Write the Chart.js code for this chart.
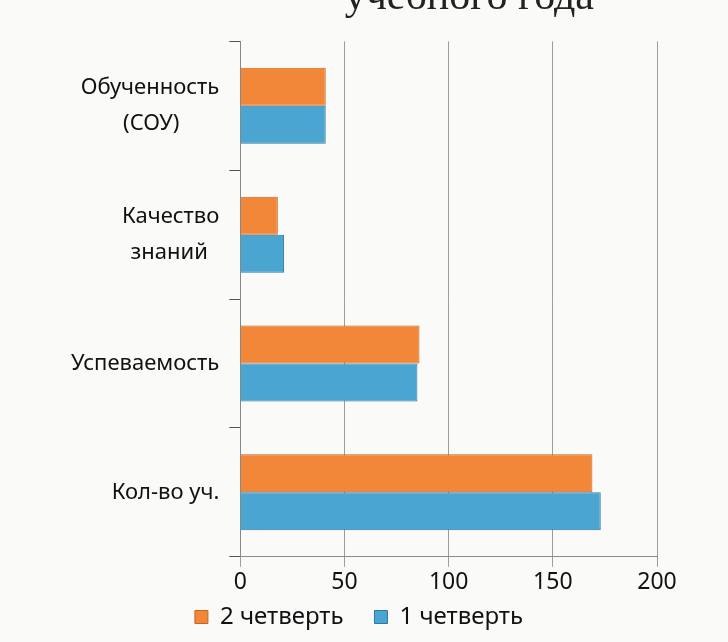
<!DOCTYPE html>
<html>
<head>
<meta charset="utf-8">
<script src="https://cdn.jsdelivr.net/npm/chart.js@4"></script>
<style>
    html, body { margin: 0; padding: 0; background: #fafaf9; }
    #wrap { width: 728px; height: 642px; }
</style>
</head>
<body>
<div id="wrap"><canvas id="myBarChart"></canvas></div>
<script>
// trailing spaces keep the second line centred under the first
const categories = [['Обученность', '(СОУ)       '], ['Качество', 'знаний  '], 'Успеваемость', 'Кол-во уч.'];
const quarter2 = [41, 18, 86, 169];
const quarter1 = [41, 21, 85, 173];
const xTicks = [0, 50, 100, 150, 200];

const barCtx = document.getElementById('myBarChart');

if (barCtx) {
    new Chart(barCtx, {
        type: 'bar',
        data: {
            labels: categories,
            datasets: [
                {
                    label: '2 четверть    ',
                    data: quarter2,
                    backgroundColor: '#f2873a',
                    borderColor: '#c5661f',
                    borderWidth: 1,
                    categoryPercentage: 0.59,
                    barPercentage: 1.0
                },
                {
                    label: '1 четверть',
                    data: quarter1,
                    backgroundColor: '#4aa5d0',
                    borderColor: '#2d7aa3',
                    borderWidth: 1,
                    categoryPercentage: 0.59,
                    barPercentage: 1.0
                }
            ]
        },
        options: {
            indexAxis: 'y',
            responsive: true,
            maintainAspectRatio: false,
            animation: false,
            layout: {
                padding: { left: 61, right: 71, top: 0, bottom: 3 }
            },
            scales: {
                x: {
                    min: 0,
                    max: 200,
                    afterBuildTicks: axis => {
                        axis.ticks = xTicks.map(v => ({ value: v }));
                    },
                    grid: { color: '#9c9c9c', drawTicks: true, tickLength: 10 },
                    border: { display: true, color: '#8c8c8c' },
                    ticks: {
                        color: '#111',
                        padding: 16,
                        // small line height lets the legend sit close under the labels
                        font: { family: 'Noto Sans', size: 23, lineHeight: 0.01 }
                    }
                },
                y: {
                    grid: {
                        offset: true,
                        drawOnChartArea: false,
                        drawTicks: true,
                        tickLength: 11,
                        color: '#555'
                    },
                    border: { display: true, color: '#888' },
                    ticks: {
                        color: '#111',
                        padding: 10,
                        font: { family: 'Noto Sans', size: 22, lineHeight: 1.6 }
                    }
                }
            },
            plugins: {
                title: {
                    display: true,
                    text: 'учебного года      ',
                    color: '#222',
                    align: 'end',
                    padding: { top: -27, bottom: 18 },
                    font: { family: 'Liberation Serif', size: 42, weight: 'normal' }
                },
                legend: {
                    position: 'bottom',
                    labels: {
                        color: '#111',
                        boxWidth: 13,
                        boxHeight: 13,
                        padding: 6,
                        font: { family: 'Noto Sans', size: 24 }
                    }
                },
                tooltip: { enabled: false }
            }
        }
    });
}
</script>
</body>
</html>
